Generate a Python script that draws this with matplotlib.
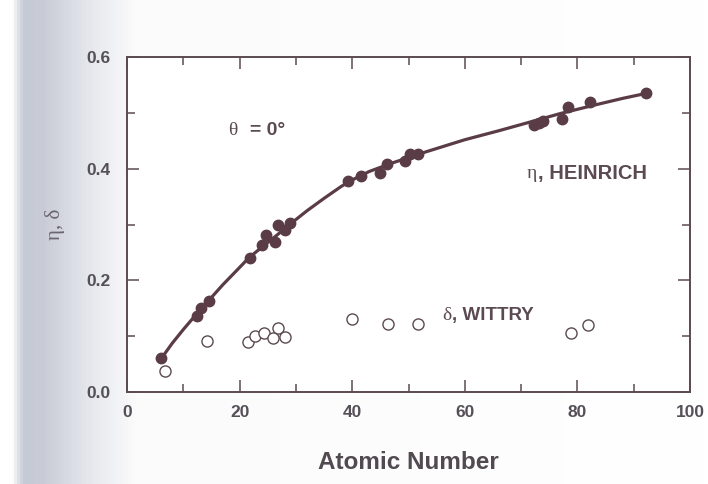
import numpy as np
import matplotlib
matplotlib.use('Agg')
import matplotlib.pyplot as plt
from matplotlib.colors import LinearSegmentedColormap

# backscatter coefficient eta (Heinrich), filled circles
heinrich_z = [6, 12.4, 13.2, 14.5, 21.8, 24.0, 24.6, 26.2, 26.8, 28.0, 29.0,
              39.3, 41.6, 44.9, 46.2, 49.4, 50.2, 51.6,
              72.3, 73.2, 73.9, 77.2, 78.4, 82.3, 92.2]
heinrich_eta = [0.061, 0.136, 0.150, 0.163, 0.241, 0.263, 0.282, 0.269, 0.299, 0.290, 0.302,
                0.378, 0.387, 0.392, 0.408, 0.413, 0.426, 0.426,
                0.478, 0.482, 0.485, 0.490, 0.511, 0.519, 0.535]

# secondary yield delta (Wittry), open circles
wittry_z = [6.8, 14.2, 21.5, 22.8, 24.3, 26.0, 26.9, 28.0, 40.0, 46.4, 51.6, 78.8, 81.9]
wittry_delta = [0.038, 0.091, 0.090, 0.100, 0.106, 0.096, 0.114, 0.099,
                0.130, 0.121, 0.121, 0.105, 0.120]

# smooth curve through eta
curve_z = [6.3, 8, 10, 12.2, 14.6, 17, 19.5, 21.6, 24, 26.5, 29, 32, 35, 38, 40,
           43, 47, 53, 60, 66, 71, 77, 83, 88, 92.2]
curve_eta = [0.063, 0.087, 0.112, 0.138, 0.165, 0.192, 0.218, 0.240, 0.260, 0.280,
             0.301, 0.325, 0.347, 0.368, 0.380, 0.395, 0.410, 0.430, 0.452, 0.468,
             0.482, 0.499, 0.514, 0.526, 0.535]

ink = '#5b4a52'
dot = '#5a3c46'

fig = plt.figure(figsize=(7.08, 4.84), dpi=100)

# scanned page shadow on the left
bg = fig.add_axes([0, 0, 1, 1], zorder=-5)
shade = LinearSegmentedColormap.from_list(
    'shade', [(0, '#ffffff'), (0.015, '#ffffff'), (0.03, '#c6cad5'),
              (0.06, '#c9ccd6'), (0.12, '#e4e6ec'), (0.19, '#fbfbfc'), (1, '#ffffff')])
bg.imshow(np.linspace(0, 1, 708)[None, :], aspect='auto', cmap=shade,
          extent=[0, 1, 0, 1], vmin=0, vmax=1)
bg.axis('off')

ax = fig.add_axes([0.1794, 0.19, 0.7952, 0.692])
ax.patch.set_facecolor('white')

ax.plot(curve_z, curve_eta, color=dot, lw=2.3, zorder=2, solid_joinstyle='round')
ax.plot(heinrich_z, heinrich_eta, 'o', color=dot, ms=7.5, zorder=3)
ax.plot(wittry_z, wittry_delta, 'o', mfc='white', mec=ink, mew=1.0, ms=8, zorder=3)

ax.set_xlim(0, 100)
ax.set_ylim(0, 0.6)
ax.set_xticks([0, 20, 40, 60, 80, 100])
ax.set_xticks([10, 30, 50, 70, 90], minor=True)
ax.set_yticks([0.0, 0.2, 0.4, 0.6])
ax.set_yticks([0.1, 0.3, 0.5], minor=True)
ax.set_yticklabels(['0.0', '0.2', '0.4', '0.6'])

ax.tick_params(which='both', direction='in', top=True, right=True,
               color=ink, width=1.1, labelcolor='#555058')
ax.tick_params(which='major', length=8.5, labelsize=12.5, pad=9)
ax.tick_params(which='minor', length=5.5)
ax.tick_params(axis='y', which='major', pad=12)
for lab in ax.get_xticklabels() + ax.get_yticklabels():
    lab.set_family('Liberation Sans')
    lab.set_fontweight('bold')
for s in ax.spines.values():
    s.set_color(ink)
    s.set_linewidth(1.4)

ax.set_xlabel('Atomic Number', fontsize=17.5, family='Liberation Sans',
              fontweight='bold', color='#514a50', labelpad=23)
ax.set_ylabel('η, δ', fontsize=15, family='Liberation Serif', color='#6a6570',
              labelpad=15)

ax.text(18.0, 0.468, 'θ', fontsize=14, family='Liberation Serif', color=ink,
        ha='left', va='center')
ax.text(21.8, 0.468, '= 0°', fontsize=14, family='Liberation Sans', fontweight='bold',
        color=ink, ha='left', va='center')
ax.text(71.0, 0.392, 'η', fontsize=14, family='Liberation Serif', color=ink,
        ha='left', va='center')
ax.text(73.0, 0.392, ', HEINRICH', fontsize=14.5, family='Liberation Sans',
        fontweight='bold', color=ink, ha='left', va='center')
ax.text(56.0, 0.138, 'δ', fontsize=14, family='Liberation Serif', color=ink,
        ha='left', va='center')
ax.text(57.8, 0.138, ', WITTRY', fontsize=13.5, family='Liberation Sans',
        fontweight='bold', color=ink, ha='left', va='center')

fig.savefig('out.png', dpi=100)
